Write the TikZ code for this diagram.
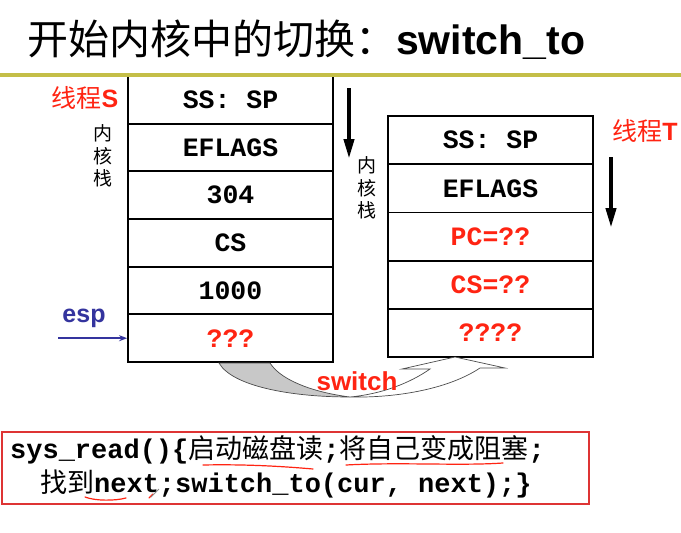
\documentclass[tikz,border=0pt]{standalone}
\usepackage{fontspec}
\setmainfont{Liberation Sans}
\setsansfont{Liberation Sans}
\setmonofont{Liberation Mono}
\newfontfamily\cjk{Noto Sans CJK SC}
\usetikzlibrary{arrows.meta}

\definecolor{slidered}{RGB}{255,36,18}
\definecolor{espblue}{RGB}{52,52,158}
\definecolor{ruleolive}{RGB}{196,190,72}
\definecolor{boxred}{RGB}{222,52,52}
\definecolor{backgray}{RGB}{200,200,200}

\tikzset{
  cell/.style={draw=black, line width=1.8pt, minimum width=205pt, minimum height=#1,
    inner sep=0pt, font=\fontsize{26.5}{26.5}\selectfont\ttfamily\bfseries},
  scell/.style={cell=47.67pt},
  tcell/.style={cell=48.2pt},
  hot/.style={text=slidered},
  threadlabel/.style={text=slidered, inner sep=0pt, font=\fontsize{25}{25}\selectfont},
  stacklabel/.style={inner sep=0pt, align=center, font=\fontsize{19}{22.5}\selectfont\cjk},
  growarrow/.style={line width=4pt, -{Triangle[length=20pt,width=10pt]}},
  codeline/.style={inner sep=0pt, anchor=base west, font=\fontsize{27}{27}\selectfont\ttfamily\bfseries},
  penmark/.style={draw=slidered, line width=1.2pt, line cap=round},
}

\begin{document}
\begin{tikzpicture}[x=1pt, y=-1pt]
  \useasboundingbox (0,0) rectangle (681,533);
  \fill[white] (0,0) rectangle (681,533);

  % heading
  \node[inner sep=0pt, anchor=base west, font=\fontsize{41}{41}\selectfont] (title) at (27,54)
    {{\cjk 开始内核中的切换：}{\sffamily\bfseries switch\_to}};

  % stack of thread S
  \node[scell] (s1) at (230.5,99.8)  {SS: SP};
  \node[scell] (s2) at (230.5,147.5) {EFLAGS};
  \node[scell] (s3) at (230.5,195.2) {304};
  \node[scell] (s4) at (230.5,242.8) {CS};
  \node[scell] (s5) at (230.5,290.5) {1000};
  \node[scell, hot] (s6) at (230.5,338.2) {???};

  % stack of thread T
  \node[tcell] (t1) at (490.5,140.1) {SS: SP};
  \node[tcell] (t2) at (490.5,188.3) {EFLAGS};
  \node[tcell, hot] (t3) at (490.5,236.5) {PC=??};
  \node[tcell, hot] (t4) at (490.5,284.7) {CS=??};
  \node[tcell, hot] (t5) at (490.5,332.9) {????};

  % rule under the heading
  \draw[ruleolive, line width=4pt] (0,75) -- (681,75);

  % labels beside the stacks
  \node[threadlabel] (threadS) at (85,98) {{\cjk 线程}{\sffamily\bfseries S}};
  \node[threadlabel] (threadT) at (645,131) {{\cjk 线程}{\sffamily\bfseries T}};
  \node[stacklabel] (kstackS) at (103,156) {内\\核\\栈};
  \node[stacklabel] (kstackT) at (367,188) {内\\核\\栈};

  % growth direction of the stacks
  \coordinate (growS0) at (349,88);
  \coordinate (growS1) at (349,159);
  \draw[growarrow] (growS0) -- (growS1);
  \coordinate (growT0) at (611,157);
  \coordinate (growT1) at (611,228);
  \draw[growarrow] (growT0) -- (growT1);

  % stack pointer
  \node[inner sep=0pt, text=espblue, font=\fontsize{25}{25}\selectfont\sffamily\bfseries] (esp) at (84,318) {esp};
  \coordinate (espfrom) at (58,338.2);
  \draw[espblue, line width=2pt, -{Stealth[length=8pt,width=6pt]}] (espfrom) -- (s6.west);

  % curved block arrow from stack S to stack T
  \filldraw[fill=backgray, draw=black!70, line width=0.7pt]
    (219,363) .. controls (232,386) and (290,397) .. (350,397)
              .. controls (318,393) and (282,382) .. (270,363) -- cycle;
  \filldraw[fill=white, draw=black!70, line width=0.7pt]
    (350,397) .. controls (382,394) and (410,383) .. (430,369)
    -- (402,369) -- (455,357) -- (505,368) -- (480,368)
    .. controls (450,388) and (400,398) .. (350,397) -- cycle;
  \node[inner sep=0pt, text=slidered, font=\fontsize{26}{26}\selectfont\sffamily\bfseries] (switchlbl) at (357,381) {switch};

  % code box
  \draw[boxred, line width=1.5pt] (2,432) rectangle (589,504);
  \node[codeline] (code1) at (10,458)
    {sys\_read()\{{\cjk\mdseries 启动磁盘读};{\cjk\mdseries 将自己变成阻塞};};
  \node[codeline] (code2) at (40,492)
    {{\cjk\mdseries 找到}next;switch\_to(cur, next);\}};

  % hand-drawn pen marks
  \draw[penmark] (203,465) .. controls (250,464) and (290,467) .. (313,469);
  \draw[penmark] (346,465) .. controls (400,462) and (460,466) .. (503,463);
  \draw[penmark] (85,497) .. controls (95,501) and (115,501) .. (126,498);
  \draw[penmark] (149,498) -- (153,494);
  \draw[black!45, line width=0.8pt] (151,497) -- (159,489);
\end{tikzpicture}
\end{document}
